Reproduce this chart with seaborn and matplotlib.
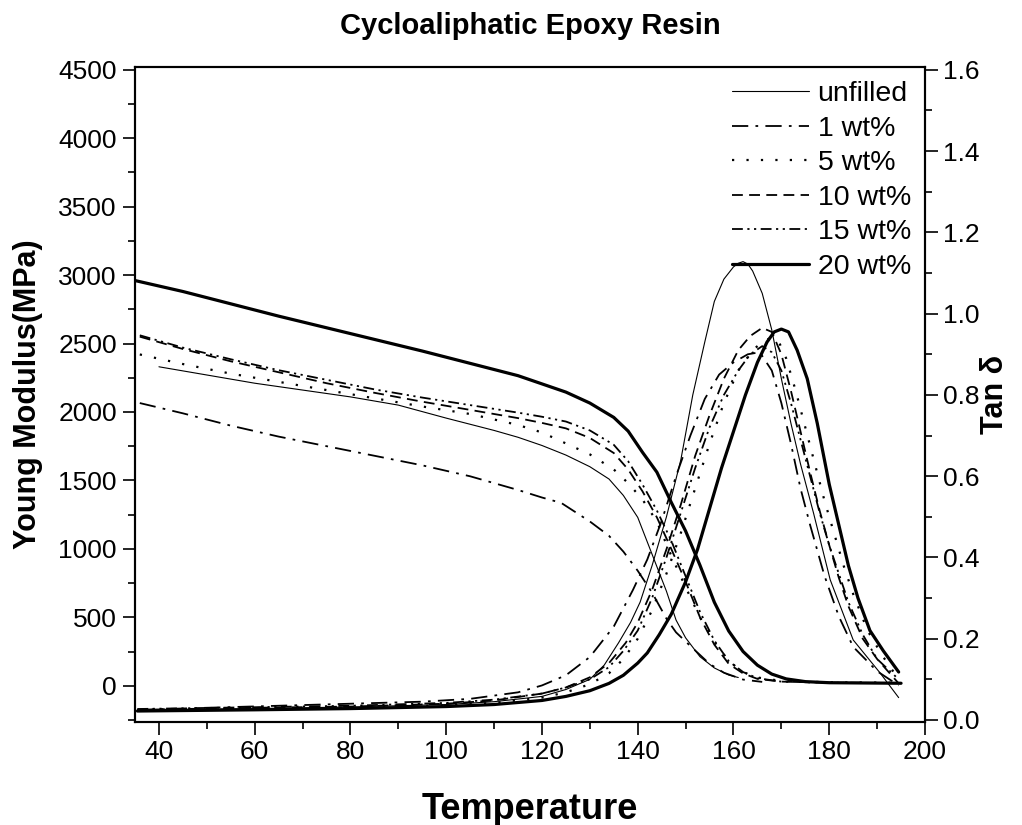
import numpy as np
import pandas as pd
import matplotlib
matplotlib.use("Agg")
import matplotlib.pyplot as plt
import seaborn as sns
from matplotlib.ticker import MultipleLocator, FormatStrFormatter

sns.set_theme(style="ticks")
plt.rcParams["font.family"] = ["Liberation Sans", "DejaVu Sans"]
plt.rcParams["text.color"] = "black"
plt.rcParams["axes.labelcolor"] = "black"
plt.rcParams["xtick.color"] = "black"
plt.rcParams["ytick.color"] = "black"

# ---------------- data: Young modulus (MPa) ----------------
labels = ["unfilled", "1 wt%", "5 wt%", "10 wt%", "15 wt%", "20 wt%"]

T_mod_unf = [40, 50, 60, 70, 80, 90, 100, 110, 115, 120, 125, 130, 134, 137, 140, 143, 146, 148, 150, 153, 156, 159, 161]
E_unf = [2330, 2270, 2210, 2160, 2110, 2050, 1955, 1865, 1815, 1755, 1685, 1600, 1510, 1390, 1230, 960, 690, 480, 350, 212, 130, 78, 60]

T_mod_1 = [36, 45, 55, 65, 75, 85, 95, 105, 115, 120, 124, 130, 134, 137, 140, 143, 146, 148, 151, 155, 158, 162, 166]
E_1 = [2065, 1990, 1900, 1820, 1750, 1680, 1610, 1530, 1430, 1375, 1336, 1200, 1095, 980, 840, 680, 490, 390, 290, 160, 95, 45, 28]

T_mod_5 = [36, 45, 55, 65, 75, 85, 95, 105, 115, 120, 125, 130, 135, 138, 141, 144, 147, 150, 153, 156, 159, 162, 165, 170, 180, 195]
E_5 = [2420, 2350, 2280, 2220, 2160, 2100, 2040, 1985, 1905, 1850, 1770, 1690, 1580, 1480, 1360, 1200, 950, 720, 500, 320, 180, 100, 60, 35, 25, 22]

T_mod_10 = [36, 45, 55, 65, 75, 85, 95, 105, 115, 120, 125, 130, 135, 138, 141, 144, 147, 150, 153, 156, 159, 162, 165, 170, 180, 195]
E_10 = [2550, 2460, 2370, 2290, 2210, 2140, 2075, 2015, 1955, 1920, 1880, 1810, 1700, 1580, 1420, 1230, 1000, 760, 500, 300, 160, 90, 50, 30, 22, 20]

T_mod_15 = [36, 45, 55, 65, 75, 85, 95, 105, 115, 120, 125, 130, 135, 138, 141, 144, 147, 150, 153, 156, 159, 162, 165, 170, 180, 195]
E_15 = [2560, 2470, 2385, 2305, 2235, 2165, 2105, 2050, 1995, 1965, 1930, 1865, 1760, 1640, 1470, 1280, 1060, 800, 540, 330, 180, 100, 55, 30, 22, 20]

T_mod_20 = [35, 45, 55, 65, 75, 85, 95, 105, 115, 120, 125, 130, 135, 138, 141, 144, 147, 150, 153, 156, 159, 162, 165, 168, 171, 175, 180, 195]
E_20 = [2960, 2880, 2790, 2700, 2615, 2530, 2445, 2355, 2265, 2205, 2145, 2065, 1960, 1860, 1705, 1560, 1340, 1130, 880, 610, 400, 250, 150, 85, 50, 30, 22, 18]

# ---------------- data: tan delta ----------------
T_tan_unf = [35.5, 60, 80, 100, 110, 120, 125, 130, 133, 136, 138.5, 140.5, 143, 146, 149, 151.5, 154, 156, 158, 160, 161, 162, 163, 164, 166, 168, 170, 172, 174, 176.7, 180.2, 185, 190.6, 194.5]
tan_unf = [0.025, 0.028, 0.032, 0.038, 0.045, 0.058, 0.075, 0.100, 0.135, 0.190, 0.240, 0.290, 0.380, 0.500, 0.640, 0.800, 0.930, 1.030, 1.085, 1.115, 1.124, 1.128, 1.122, 1.105, 1.050, 0.960, 0.840, 0.730, 0.630, 0.510, 0.345, 0.197, 0.116, 0.055]

T_tan_1 = [35.5, 50, 65, 80, 95, 105, 115, 120, 125, 130, 135, 139, 142, 145, 148, 151, 154, 157, 160, 163, 165.5, 168, 170, 172, 174, 176, 179, 182, 185, 190, 194.5]
tan_1 = [0.025, 0.030, 0.035, 0.040, 0.045, 0.052, 0.068, 0.085, 0.110, 0.155, 0.230, 0.320, 0.395, 0.490, 0.600, 0.700, 0.790, 0.850, 0.880, 0.900, 0.905, 0.860, 0.780, 0.680, 0.570, 0.480, 0.355, 0.255, 0.180, 0.120, 0.085]

T_tan_5 = [35.5, 80, 100, 110, 120, 125, 130, 134, 137, 140, 143, 146, 149, 152, 155, 158, 161, 164, 166.5, 168, 169.5, 171, 173, 175, 177, 179, 181, 183, 185, 188, 191, 194.5]
tan_5 = [0.025, 0.030, 0.036, 0.042, 0.055, 0.068, 0.088, 0.115, 0.150, 0.200, 0.270, 0.360, 0.460, 0.570, 0.680, 0.780, 0.860, 0.910, 0.935, 0.940, 0.930, 0.890, 0.810, 0.720, 0.630, 0.540, 0.460, 0.380, 0.310, 0.220, 0.160, 0.100]

T_tan_10 = [35.5, 60, 80, 100, 110, 120, 125, 130, 134, 137.5, 140, 143, 146, 149, 152, 155, 158, 161, 163.5, 166, 168, 170, 172, 174, 176, 178, 180, 182, 184, 187, 190, 194.5]
tan_10 = [0.025, 0.030, 0.033, 0.040, 0.048, 0.065, 0.080, 0.105, 0.140, 0.190, 0.240, 0.320, 0.420, 0.530, 0.650, 0.750, 0.840, 0.910, 0.945, 0.965, 0.955, 0.900, 0.810, 0.710, 0.610, 0.515, 0.430, 0.350, 0.280, 0.200, 0.150, 0.090]

T_tan_15 = [35.5, 80, 100, 110, 120, 125, 130, 134, 137, 140, 143, 146, 149, 152, 155, 158, 161, 163.5, 166, 168, 170, 172, 174, 176, 178, 180, 182, 184, 187, 190, 194.5]
tan_15 = [0.027, 0.035, 0.042, 0.050, 0.065, 0.080, 0.100, 0.130, 0.170, 0.220, 0.300, 0.400, 0.510, 0.620, 0.720, 0.800, 0.860, 0.900, 0.920, 0.905, 0.860, 0.780, 0.690, 0.600, 0.510, 0.430, 0.360, 0.290, 0.210, 0.150, 0.100]

T_tan_20 = [35.5, 60, 80, 100, 110, 120, 125, 130, 134, 137, 140, 142, 144.5, 147, 150, 152.5, 155, 157.5, 160, 162.5, 165, 167, 168.5, 170, 171.5, 173.3, 175.4, 177.5, 180, 182, 184, 186, 188.5, 191.3, 194.5]
tan_20 = [0.022, 0.025, 0.028, 0.033, 0.038, 0.048, 0.058, 0.072, 0.090, 0.110, 0.140, 0.165, 0.210, 0.260, 0.340, 0.420, 0.520, 0.620, 0.710, 0.800, 0.880, 0.930, 0.955, 0.962, 0.955, 0.910, 0.840, 0.730, 0.580, 0.480, 0.380, 0.300, 0.220, 0.170, 0.118]

# ---------------- styles ----------------
styles = {
    "unfilled": dict(lw=0.8, ls="-"),
    "1 wt%": dict(lw=1.3, ls=(0, (9, 4, 1.5, 4))),
    "5 wt%": dict(lw=1.6, ls=(0, (1, 5.5))),
    "10 wt%": dict(lw=1.3, ls=(0, (6, 3.5))),
    "15 wt%": dict(lw=1.3, ls=(0, (6, 2.5, 1.2, 2.5, 1.2, 2.5))),
    "20 wt%": dict(lw=2.3, ls="-"),
}

mod_series = [(T_mod_unf, E_unf), (T_mod_1, E_1), (T_mod_5, E_5),
              (T_mod_10, E_10), (T_mod_15, E_15), (T_mod_20, E_20)]
tan_series = [(T_tan_unf, tan_unf), (T_tan_1, tan_1), (T_tan_5, tan_5),
              (T_tan_10, tan_10), (T_tan_15, tan_15), (T_tan_20, tan_20)]

W, H = 1022, 825
fig = plt.figure(figsize=(W / 100, H / 100), dpi=100)
fig.patch.set_facecolor("white")
ax = fig.add_axes([135 / W, 1 - 722 / H, 790 / W, 655 / H])
ax2 = ax.twinx()

handles = []
for lab, (tx, ty) in zip(labels, mod_series):
    st = styles[lab]
    df = pd.DataFrame({"T": tx, "v": ty})
    sns.lineplot(data=df, x="T", y="v", ax=ax, color="black", linewidth=st["lw"],
                 linestyle=st["ls"], sort=False, estimator=None, legend=False)
    handles.append(ax.lines[-1])
for lab, (tx, ty) in zip(labels, tan_series):
    st = styles[lab]
    df = pd.DataFrame({"T": tx, "v": ty})
    sns.lineplot(data=df, x="T", y="v", ax=ax2, color="black", linewidth=st["lw"],
                 linestyle=st["ls"], sort=False, estimator=None, legend=False)

ax.set_xlim(35, 200)
ax.set_ylim(-265, 4520)
ax2.set_ylim(-0.005, 1.607)

ax.xaxis.set_major_locator(MultipleLocator(20))
ax.xaxis.set_minor_locator(MultipleLocator(10))
ax.yaxis.set_major_locator(MultipleLocator(500))
ax.yaxis.set_minor_locator(MultipleLocator(250))
ax2.yaxis.set_major_locator(MultipleLocator(0.2))
ax2.yaxis.set_minor_locator(MultipleLocator(0.1))
ax2.yaxis.set_major_formatter(FormatStrFormatter("%.1f"))

for a in (ax, ax2):
    for sp in a.spines.values():
        sp.set_linewidth(1.5)
        sp.set_color("black")
    a.tick_params(which="major", length=9, width=1.2, color="black", labelsize=19, pad=4, labelcolor="black")
    a.tick_params(which="minor", length=5, width=1.2, color="black")
    a.set_facecolor("none")
ax.tick_params(axis="both", which="both", direction="out", top=False, right=False)
ax2.tick_params(axis="y", which="both", direction="out", right=True, left=False)

ax.set_xlabel("Temperature", fontsize=26, fontweight="bold", labelpad=20, color="black")
ax.set_ylabel("Young Modulus(MPa)", fontsize=22, fontweight="bold", labelpad=11, color="black")
ax2.set_ylabel("Tan δ", fontsize=22, fontweight="bold", labelpad=0, color="black")
ax.set_title("Cycloaliphatic Epoxy Resin", fontsize=21, fontweight="bold", pad=24, color="black")

ax.grid(False)
ax2.grid(False)

leg = ax2.legend(handles, labels, loc="upper right", bbox_to_anchor=(1.0, 1.0),
                 frameon=False, fontsize=20.5, handlelength=2.7, handletextpad=0.3,
                 labelspacing=0.3, borderaxespad=0.1, labelcolor="black")

fig.savefig("out.png", dpi=100, facecolor="white")
